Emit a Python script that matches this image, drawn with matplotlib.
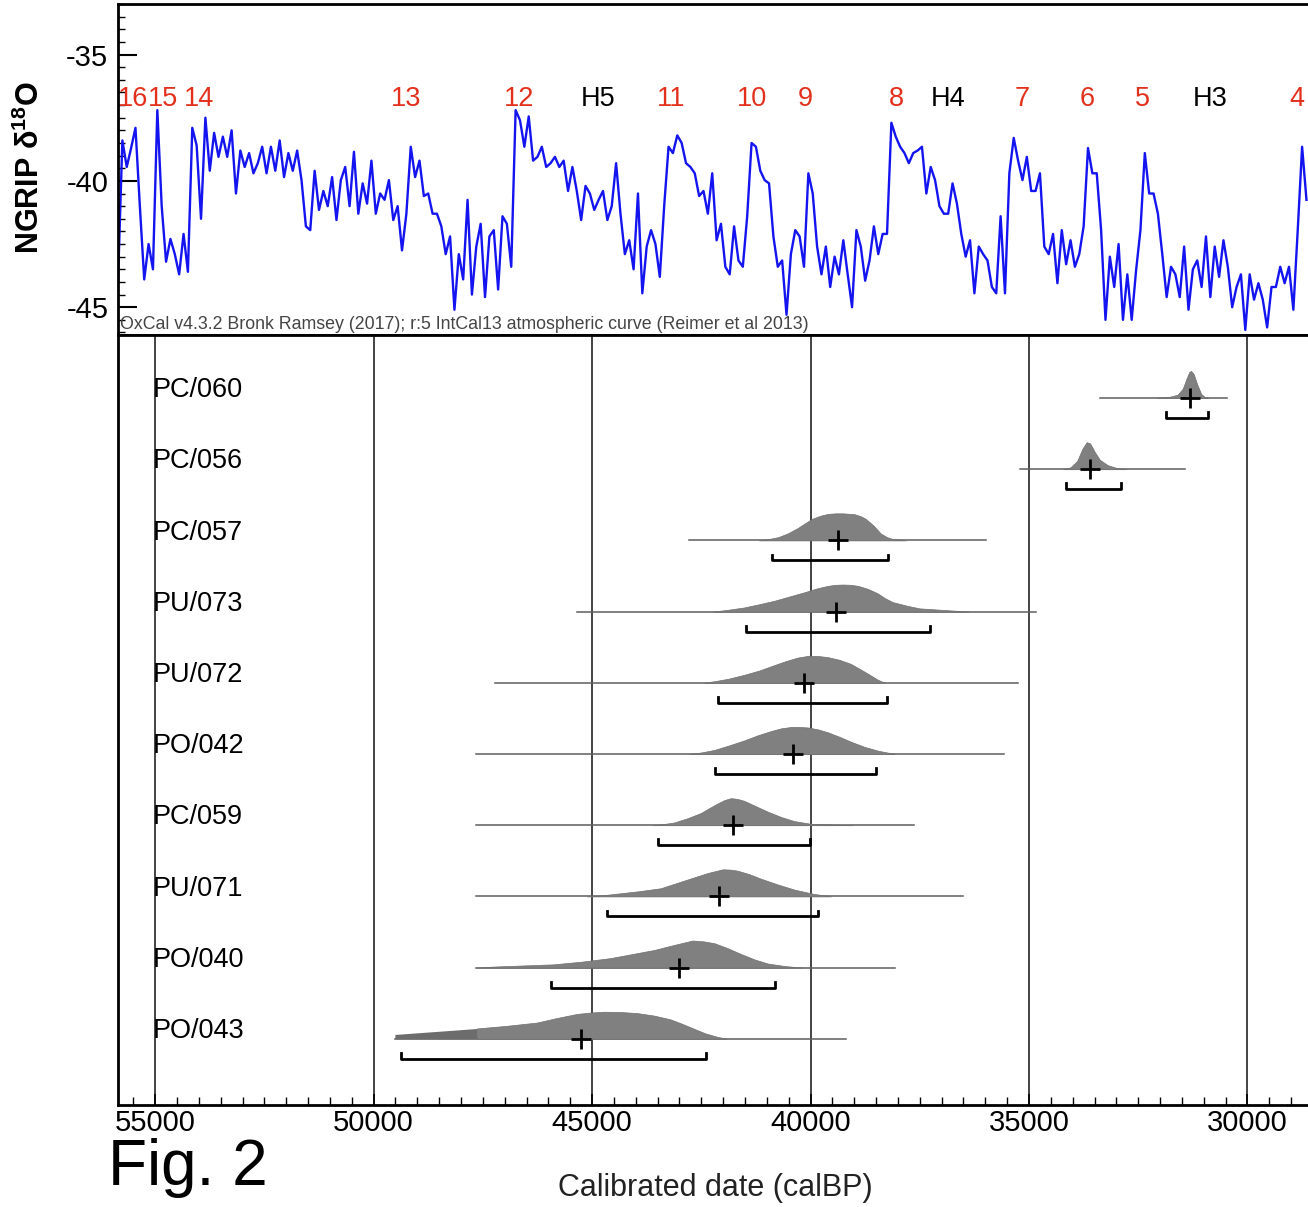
import numpy as np
import matplotlib
matplotlib.use('Agg')
import matplotlib.pyplot as plt
from matplotlib.ticker import MultipleLocator

plt.rcParams['font.family'] = ['Liberation Sans', 'DejaVu Sans']
plt.rcParams['axes.unicode_minus'] = False
plt.rcParams['mathtext.fontset'] = 'custom'
plt.rcParams['mathtext.rm'] = 'Liberation Sans'
plt.rcParams['mathtext.bf'] = 'Liberation Sans:bold'

# --- NGRIP d18O (100-yr steps) ---
ngrip_years = np.arange(55850, 28600, -100)
ngrip_d18o = [
    -44.0, -38.4, -39.45, -38.7, -37.9, -41.0, -43.9, -42.5, -43.5, -37.2,
    -41.0, -43.2, -42.3, -42.9, -43.7, -42.1, -43.6, -37.9, -38.6, -41.5,
    -37.5, -39.6, -38.1, -39.05, -38.25, -39.05, -38.0, -40.5, -38.8, -39.45,
    -38.9, -39.7, -39.3, -38.65, -39.7, -38.65, -39.6, -38.4, -39.85, -38.9,
    -39.6, -38.8, -39.97, -41.8, -41.95, -39.6, -41.15, -40.4, -41.0, -39.85,
    -41.55, -39.97, -39.45, -41.0, -38.85, -41.3, -40.1, -40.9, -39.2, -41.3,
    -40.5, -40.75, -39.97, -41.55, -41.0, -42.75, -41.3, -38.65, -39.85, -39.2,
    -40.6, -40.5, -41.3, -41.3, -41.8, -42.9, -42.2, -45.1, -42.9, -43.9,
    -40.75, -44.5, -42.6, -41.7, -44.6, -42.2, -41.95, -44.3, -41.4, -41.7,
    -43.4, -37.2, -37.6, -38.65, -37.45, -39.2, -39.05, -38.65, -39.45, -39.3,
    -39.05, -39.45, -39.2, -40.4, -39.45, -40.4, -41.55, -40.2, -40.5, -41.15,
    -40.75, -40.4, -41.55, -41.0, -39.3, -41.3, -42.9, -42.35, -43.5, -40.5,
    -44.45, -42.6, -41.95, -42.5, -43.8, -41.0, -38.65, -38.9, -38.2, -38.5,
    -39.3, -39.45, -39.7, -40.6, -40.4, -41.3, -39.7, -42.35, -41.7, -43.4,
    -43.7, -41.8, -43.15, -43.4, -41.4, -38.5, -38.65, -39.6, -39.97, -40.1,
    -42.2, -43.4, -43.15, -45.3, -42.9, -41.95, -42.2, -43.4, -39.7, -40.5,
    -42.6, -43.7, -42.6, -44.2, -43.0, -43.7, -42.35, -43.7, -45.0, -41.95,
    -42.6, -43.95, -43.15, -41.8, -42.9, -42.1, -42.1, -37.7, -38.25, -38.65,
    -38.9, -39.3, -38.9, -38.8, -38.65, -40.5, -39.45, -39.97, -41.0, -41.3,
    -41.3, -40.1, -40.9, -42.1, -43.0, -42.35, -44.45, -42.6, -42.9, -43.15,
    -44.2, -44.45, -41.4, -44.45, -39.7, -38.3, -39.2, -39.97, -39.05, -40.4,
    -40.4, -39.7, -42.6, -42.9, -42.1, -44.05, -41.95, -43.3, -42.35, -43.4,
    -42.9, -41.8, -38.7, -39.7, -39.7, -41.95, -45.5, -43.0, -44.2, -42.5,
    -45.5, -43.7, -45.5, -43.55, -41.95, -38.9, -40.5, -40.5, -41.3, -42.9,
    -44.6, -43.4, -43.7, -44.6, -42.6, -45.1, -43.5, -43.15, -44.2, -42.2,
    -44.6, -42.6, -43.8, -42.35, -43.4, -45.0, -44.2, -43.7, -45.9, -43.7,
    -44.7, -44.05, -44.7, -45.8, -44.2, -44.2, -43.4, -44.05, -43.4, -45.1,
    -41.95, -38.65, -40.75,
]

# interstadials / Heinrich events
event_labels = ['16', '15', '14', '13', '12', 'H5', '11', '10', '9', '8',
                'H4', '7', '6', '5', 'H3', '4']
event_years = [55503, 54817, 53993, 49256, 46671, 44863, 43192, 41339, 40126,
               38044, 36854, 35160, 33673, 32392, 30858, 28867]

# --- OxCal calibrated dates ---
samples = ['PC/060', 'PC/056', 'PC/057', 'PU/073', 'PU/072',
           'PO/042', 'PC/059', 'PU/071', 'PO/040', 'PO/043']
range_start = [33376, 35206, 42790, 45340, 47230, 47660, 47660, 47660, 47660, 49513]
range_end = [30480, 31431, 35990, 34850, 35250, 35573, 37640, 36520, 38070, 39185]
median_x = [31310, 33600, 39372, 39415, 40148, 40406, 41784, 42106, 43009, 45251]
hpd_lo = [31865, 34154, 40890, 41480, 42112, 42190, 43500, 44650, 45930, 49380]
hpd_hi = [30904, 32896, 38220, 37268, 38255, 38507, 40020, 39840, 40820, 42385]

pdf_x = [
    [32080, 31800, 31600, 31480, 31400, 31330, 31290, 31230, 31150, 31060, 30980, 30890],
    [34220, 34050, 33900, 33780, 33680, 33600, 33500, 33380, 33200, 33000, 32770],
    [41180, 40960, 40740, 40520, 40300, 40120, 39960, 39780, 39600, 39430, 39260,
     39000, 38860, 38740, 38560, 38390, 38250, 38120, 37820],
    [42225, 41880, 41530, 41180, 40830, 40480, 40130, 39870, 39610, 39430, 39260,
     39080, 38910, 38690, 38470, 38300, 38120, 37800, 37510, 36380],
    [42440, 42160, 41880, 41530, 41180, 40870, 40570, 40300, 40040, 39820, 39610,
     39340, 39080, 38860, 38650, 38470, 38300],
    [42780, 42490, 42200, 41860, 41520, 41210, 40900, 40670, 40440, 40250, 40060,
     39830, 39600, 39330, 39070, 38760, 38450, 38070],
    [43620, 43370, 43120, 42810, 42510, 42320, 42130, 41970, 41820, 41670, 41520,
     41250, 40980, 40670, 40370, 39990, 39030],
    [45120, 44770, 44430, 43930, 43430, 43050, 42670, 42340, 42010, 41840, 41670,
     41400, 41130, 40750, 40370, 39950, 39530],
    [47650, 47220, 46550, 45880, 45230, 44580, 44080, 43580, 43140, 42700, 42450,
     42200, 41900, 41590, 41280, 40980, 40600, 40210],
    [47640, 47640, 46950, 46260, 45800, 45340, 45030, 44730, 44350, 43970, 43590,
     43210, 42950, 42680, 42410, 42150, 41920],
]
pdf_h = [
    [0, 0.04, 0.12, 0.35, 0.7, 0.97, 1.0, 0.88, 0.5, 0.15, 0.04, 0],
    [0, 0.07, 0.3, 0.75, 1.0, 0.95, 0.65, 0.35, 0.15, 0.05, 0],
    [0, 0.05, 0.12, 0.26, 0.45, 0.64, 0.8, 0.91, 0.98, 1.0, 1.0,
     0.97, 0.9, 0.8, 0.55, 0.25, 0.12, 0.05, 0],
    [0, 0.07, 0.15, 0.27, 0.4, 0.56, 0.72, 0.85, 0.95, 0.99, 1.0,
     0.99, 0.95, 0.84, 0.68, 0.5, 0.35, 0.22, 0.12, 0],
    [0, 0.07, 0.15, 0.29, 0.45, 0.63, 0.8, 0.93, 1.0, 0.99, 0.95,
     0.85, 0.7, 0.5, 0.3, 0.12, 0],
    [0, 0.06, 0.15, 0.32, 0.5, 0.69, 0.85, 0.95, 1.0, 1.0, 0.98,
     0.91, 0.8, 0.63, 0.45, 0.26, 0.12, 0],
    [0, 0.04, 0.1, 0.26, 0.45, 0.63, 0.8, 0.93, 1.0, 0.97, 0.9,
     0.7, 0.5, 0.3, 0.15, 0.05, 0],
    [0, 0.04, 0.1, 0.19, 0.3, 0.5, 0.7, 0.87, 1.0, 0.99, 0.95,
     0.82, 0.65, 0.44, 0.25, 0.1, 0],
    [0, 0.04, 0.08, 0.12, 0.22, 0.35, 0.5, 0.65, 0.83, 1.0, 0.97,
     0.9, 0.72, 0.5, 0.3, 0.15, 0.06, 0],
    [0, 0.38, 0.48, 0.6, 0.77, 0.92, 0.97, 1.0, 0.99, 0.95, 0.86,
     0.72, 0.56, 0.38, 0.2, 0.08, 0],
]
# truncated tail of PO/043 beyond the curve
po043_tail_x = [49513, 47640]
po043_tail_h = [0.16, 0.38]

W, H = 1308, 1207
fig = plt.figure(figsize=(W / 100, H / 100), dpi=100)
ax_top = fig.add_axes([118 / W, 1 - 335 / H, 1 - 118 / W, (335 - 4) / H])
ax = fig.add_axes([118 / W, 1 - 1105 / H, 1 - 118 / W, (1105 - 335) / H])

x_left, x_right = 55850, 28615

# ---------- top panel ----------
ax_top.plot(ngrip_years, ngrip_d18o, color='#1414f0', lw=1.7)
ax_top.set_xlim(x_left, x_right)
ax_top.set_ylim(-46.1, -33.0)
ax_top.set_xticks([])
ax_top.set_yticks([-45, -40, -35])
ax_top.yaxis.set_minor_locator(MultipleLocator(0.5))
ax_top.tick_params(axis='y', which='major', direction='in', length=14, width=1.5,
                   labelsize=21, pad=7)
ax_top.tick_params(axis='y', which='minor', direction='in', length=5, width=1)
ax_top.spines['right'].set_visible(False)
for s in ['top', 'left', 'bottom']:
    ax_top.spines[s].set_linewidth(2)

for lab, yr in zip(event_labels, event_years):
    col = 'black' if lab.startswith('H') else '#e3301c'
    ax_top.text(yr, -36.75, lab, color=col, fontsize=19.5, ha='center', va='center')

ax_top.text(0.002, 0.006,
            'OxCal v4.3.2 Bronk Ramsey (2017); r:5 IntCal13 atmospheric curve (Reimer et al 2013)',
            transform=ax_top.transAxes, fontsize=12.8, color='#444444',
            ha='left', va='bottom')

fig.text(30 / W, 1 - 168 / H, r'NGRIP δ$^{\mathbf{18}}$O', rotation=90,
         fontsize=22, fontweight='bold', ha='center', va='center')

# ---------- bottom panel ----------
for v in range(55000, 29999, -5000):
    ax.axvline(v, color='#111111', lw=1.1, zorder=0)

peak = 0.38
for r, name in enumerate(samples):
    ax.plot([range_start[r], range_end[r]], [r, r], color='#5e5e5e', lw=1.1, zorder=2)
    hx = np.array(pdf_x[r])
    hh = np.array(pdf_h[r])
    ax.fill_between(hx, r, r - peak * hh, color='#808080', lw=0.5,
                    edgecolor='#707070', zorder=3)
    ax.plot(median_x[r], r, marker='+', ms=15, mew=2, color='black', zorder=5)
    yb = r + 0.28
    ax.plot([hpd_lo[r], hpd_lo[r], hpd_hi[r], hpd_hi[r]],
            [yb - 0.08, yb, yb, yb - 0.08], color='black', lw=2, zorder=4)
    ax.text(55045, r - 0.11, name, fontsize=19.5, ha='left', va='center', zorder=6)

tail_h = np.array(po043_tail_h)
ax.fill_between(po043_tail_x, 9, 9 - peak * tail_h, color='#6c6c6c', lw=0, zorder=3)

ax.set_xlim(x_left, x_right)
ax.set_ylim(9.93, -0.885)
ax.set_yticks([])
ax.set_xticks(list(range(55000, 29999, -5000)))
ax.xaxis.set_minor_locator(MultipleLocator(500))
ax.tick_params(axis='x', which='major', direction='in', length=8, width=1.2,
               labelsize=21, pad=3)
ax.tick_params(axis='x', which='minor', direction='in', length=6, width=1)
ax.spines['right'].set_visible(False)
for s in ['top', 'left', 'bottom']:
    ax.spines[s].set_linewidth(2)

fig.text(715 / W, 1 - 1188 / H, 'Calibrated date (calBP)', fontsize=22,
         ha='center', va='center', color='#222222')
fig.text(108 / W, 1 - 1185 / H, 'Fig. 2', fontsize=46, ha='left', va='baseline')

fig.savefig('out.png', dpi=100)
